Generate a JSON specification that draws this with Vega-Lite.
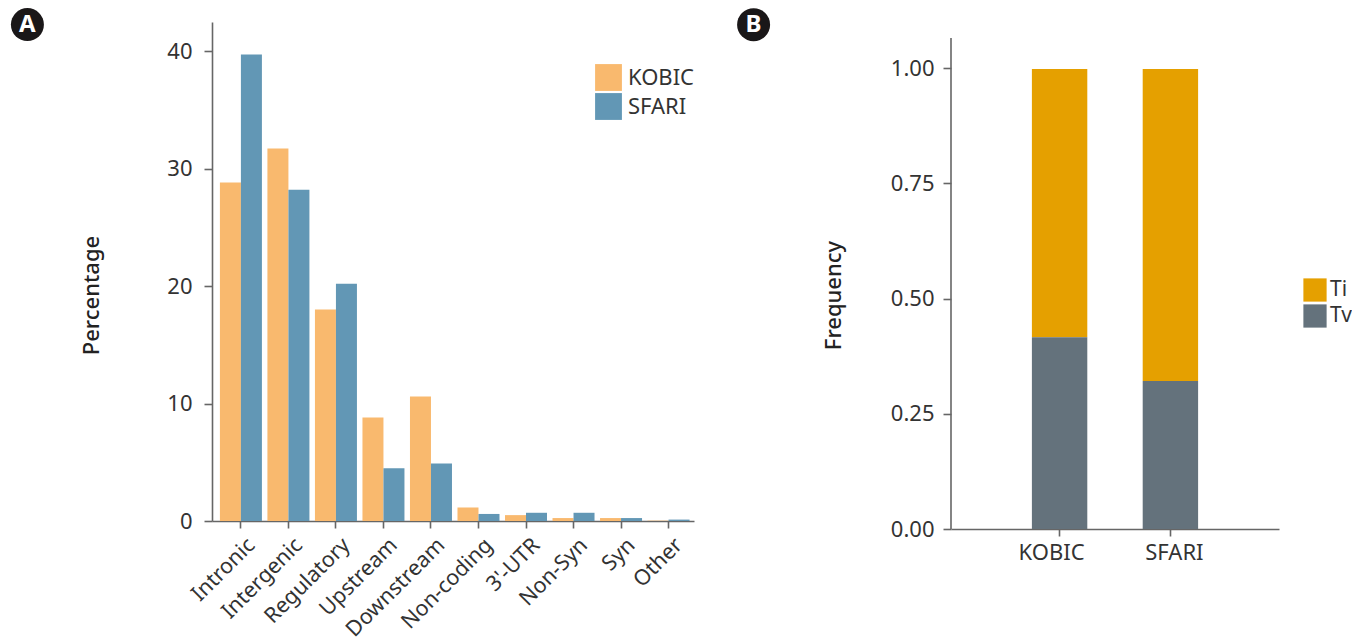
{"$schema":"https://vega.github.io/schema/vega-lite/v6.json","padding":{"left":10,"top":8,"right":0,"bottom":0},"background":"white","spacing":42,"resolve":{"scale":{"color":"independent"},"legend":{"color":"independent"}},"config":{"font":"Noto Sans","view":{"stroke":null},"axis":{"labelFont":"Noto Sans","titleFont":"Noto Sans","labelFontSize":22,"labelColor":"#333333","titleColor":"#222222","titleFontSize":22,"titleFontWeight":500,"domainColor":"#666666","tickColor":"#666666","domainWidth":1.6,"tickWidth":1.6,"grid":false},"legend":{"labelFont":"Noto Sans","labelFontSize":22,"labelColor":"#333333","symbolType":"square","symbolStrokeWidth":0,"title":null}},"hconcat":[{"width":482,"height":499,"layer":[{"data":{"values":[{"cat":"Intronic","set":"KOBIC","pct":28.8},{"cat":"Intronic","set":"SFARI","pct":39.7},{"cat":"Intergenic","set":"KOBIC","pct":31.7},{"cat":"Intergenic","set":"SFARI","pct":28.2},{"cat":"Regulatory","set":"KOBIC","pct":18.0},{"cat":"Regulatory","set":"SFARI","pct":20.2},{"cat":"Upstream","set":"KOBIC","pct":8.8},{"cat":"Upstream","set":"SFARI","pct":4.5},{"cat":"Downstream","set":"KOBIC","pct":10.6},{"cat":"Downstream","set":"SFARI","pct":4.9},{"cat":"Non-coding","set":"KOBIC","pct":1.15},{"cat":"Non-coding","set":"SFARI","pct":0.6},{"cat":"3'-UTR","set":"KOBIC","pct":0.5},{"cat":"3'-UTR","set":"SFARI","pct":0.7},{"cat":"Non-Syn","set":"KOBIC","pct":0.25},{"cat":"Non-Syn","set":"SFARI","pct":0.7},{"cat":"Syn","set":"KOBIC","pct":0.25},{"cat":"Syn","set":"SFARI","pct":0.25},{"cat":"Other","set":"KOBIC","pct":0.03},{"cat":"Other","set":"SFARI","pct":0.12}]},"mark":{"type":"bar"},"encoding":{"x":{"field":"cat","type":"nominal","sort":null,"title":null,"scale":{"paddingInner":0.116,"paddingOuter":0.13,"align":0.64},"axis":{"labelAngle":-45,"labelAlign":"right","labelBaseline":"top","labelFontSize":21.5,"tickSize":7,"labelPadding":6,"labelOffset":3}},"xOffset":{"field":"set","type":"nominal","sort":null},"y":{"field":"pct","type":"quantitative","title":"Percentage","scale":{"domain":[0,42.47],"nice":false},"axis":{"values":[0,10,20,30,40],"tickSize":8,"labelPadding":12,"titleX":-109,"titleY":273}},"color":{"field":"set","type":"nominal","scale":{"domain":["KOBIC","SFARI"],"range":["#F9B96E","#6297B5"]},"legend":{"orient":"none","legendX":383,"legendY":42,"symbolSize":720,"rowPadding":2,"labelOffset":6}}}},{"data":{"values":[{"cat":"Intronic","badge":"A","level":42.25}]},"mark":{"type":"point","filled":true,"size":1090,"color":"#1a1718","opacity":1,"xOffset":-213.5},"encoding":{"x":{"field":"cat","type":"nominal","sort":null},"y":{"field":"level","type":"quantitative"}}},{"data":{"values":[{"cat":"Intronic","badge":"A","level":42.25}]},"mark":{"type":"text","color":"white","fontWeight":"bold","fontSize":24,"xOffset":-213.5,"baseline":"middle"},"encoding":{"x":{"field":"cat","type":"nominal","sort":null},"y":{"field":"level","type":"quantitative"},"text":{"field":"badge"}}}]},{"width":328,"height":507,"layer":[{"data":{"values":[{"set":"KOBIC","kind":"Ti","freq":0.582,"ord":2},{"set":"KOBIC","kind":"Tv","freq":0.416,"ord":1},{"set":"SFARI","kind":"Ti","freq":0.677,"ord":2},{"set":"SFARI","kind":"Tv","freq":0.321,"ord":1}]},"mark":{"type":"bar"},"encoding":{"x":{"field":"set","type":"nominal","title":null,"scale":{"paddingInner":0.5,"paddingOuter":0.73},"axis":{"labelAngle":0,"tickSize":7,"labelPadding":6,"labelOffset":{"condition":{"test":"datum.value==='KOBIC'","value":-8},"value":4}}},"y":{"field":"freq","type":"quantitative","stack":"zero","title":"Frequency","scale":{"domain":[0,1.0998],"nice":false},"axis":{"values":[0,0.25,0.5,0.75,1],"format":".2f","domain":false,"tickSize":8,"labelPadding":9,"titleX":-106,"titleY":273}},"order":{"field":"ord","type":"quantitative"},"color":{"field":"kind","type":"nominal","scale":{"domain":["Ti","Tv"],"range":["#E5A000","#64727C"]},"legend":{"orient":"none","legendX":352,"legendY":256,"symbolSize":540,"rowPadding":2,"labelOffset":3,"labelFontSize":21}}}},{"data":{"values":[{"lo":0,"hi":1.065}]},"mark":{"type":"rule","color":"#666666","strokeWidth":1.6},"encoding":{"y":{"field":"lo","type":"quantitative"},"y2":{"field":"hi"},"x":{"value":0}}},{"data":{"values":[{"set":"KOBIC","badge":"B","level":1.094}]},"mark":{"type":"point","filled":true,"size":1090,"color":"#1a1718","opacity":1,"xOffset":-306},"encoding":{"x":{"field":"set","type":"nominal"},"y":{"field":"level","type":"quantitative"}}},{"data":{"values":[{"set":"KOBIC","badge":"B","level":1.094}]},"mark":{"type":"text","color":"white","fontWeight":"bold","fontSize":24,"xOffset":-306,"baseline":"middle"},"encoding":{"x":{"field":"set","type":"nominal"},"y":{"field":"level","type":"quantitative"},"text":{"field":"badge"}}}]}]}
